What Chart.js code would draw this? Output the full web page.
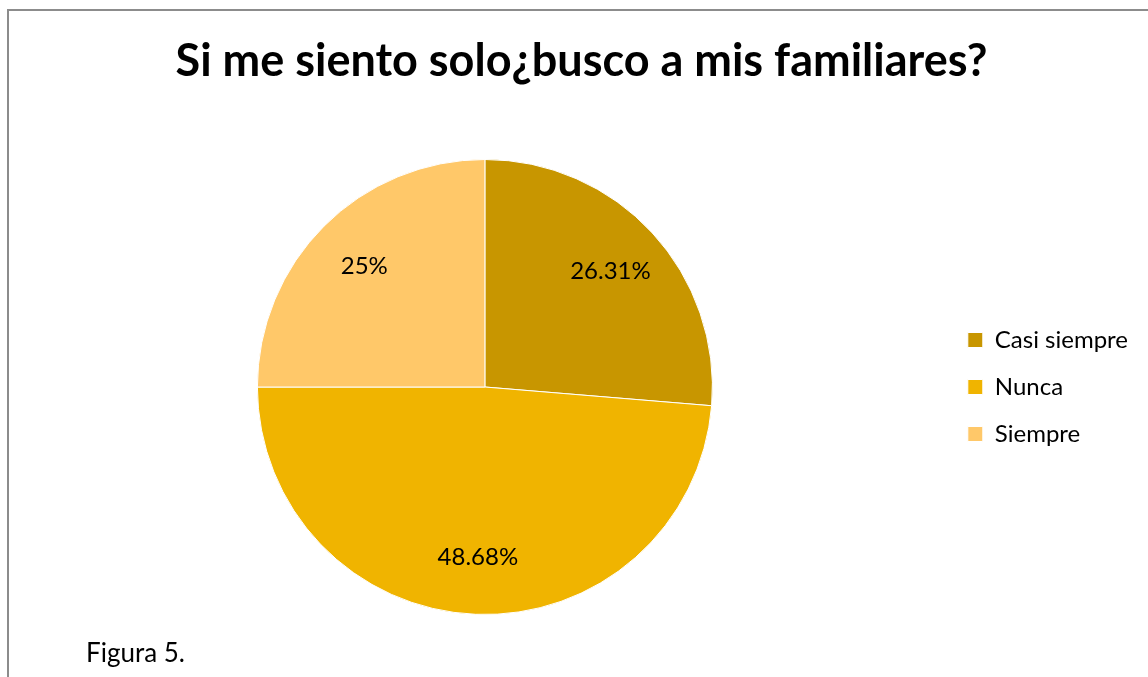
<!DOCTYPE html>
<html>
<head>
<meta charset="utf-8">
<script src="https://cdn.jsdelivr.net/npm/chart.js@4.4.1/dist/chart.umd.min.js"></script>
<style>
  html, body { margin: 0; padding: 0; background: #fff; }
  #wrap { position: relative; width: 1148px; height: 677px; overflow: hidden; }
  #frame { position: absolute; left: 7px; top: 9px; right: -10px; bottom: -10px;
           border-left: 2px solid #8c8c8c; border-top: 2px solid #8c8c8c; }
  #grafico { position: absolute; left: 0; top: 0; }
  #pie { position: absolute; left: 86px; top: 637px; font: 26px/1.2 Lato, sans-serif; color: #000; }
</style>
</head>
<body>
<div id="wrap">
  <div id="frame"></div>
  <canvas id="grafico" width="1148" height="677"></canvas>
  <div id="pie">Figura 5.</div>
</div>
<script>
const categorias = ['Casi siempre', 'Nunca', 'Siempre'];
const porcentajes = [26.31, 48.68, 25];
const etiquetas = ['26.31%', '48.68%', '25%'];
const colores = ['#C89600', '#F0B400', '#FFC869'];

// etiquetas de porcentaje dentro de cada porcion
const etiquetasPie = {
  id: 'etiquetasPie',
  afterDatasetsDraw(chart) {
    const ctx = chart.ctx;
    const arcos = chart.getDatasetMeta(0).data;
    ctx.save();
    ctx.font = '24px Lato, sans-serif';
    ctx.fillStyle = '#000';
    ctx.textAlign = 'center';
    ctx.textBaseline = 'middle';
    arcos.forEach((arco, i) => {
      const p = arco.getProps(['x', 'y', 'startAngle', 'endAngle', 'outerRadius'], true);
      const medio = (p.startAngle + p.endAngle) / 2;
      const r = p.outerRadius * 0.75;
      ctx.fillText(etiquetas[i], p.x + Math.cos(medio) * r, p.y + Math.sin(medio) * r);
    });
    ctx.restore();
  }
};

const ctxPie = document.getElementById('grafico').getContext('2d');

const graficoPie = new Chart(ctxPie, {
    type: 'pie',
    data: {
      labels: categorias,
      datasets: [{
        data: porcentajes,
        backgroundColor: colores,
        borderColor: '#ffffff',
        borderWidth: 1
      }]
    },
    options: {
      responsive: false,
      animation: false,
      layout: {
        padding: { left: 25, right: 10, top: 34, bottom: 62 }
      },
      plugins: {
        title: {
          display: true,
          text: 'Si me siento solo¿busco a mis familiares?',
          color: '#000',
          font: { family: 'Lato', size: 45, weight: 'bold' },
          padding: { top: 0, bottom: 71 }
        },
        legend: {
          position: 'right',
          fullSize: false,
          labels: {
            boxWidth: 15,
            boxHeight: 15,
            padding: 23,
            color: '#000',
            font: { family: 'Lato', size: 24 }
          }
        },
        tooltip: { enabled: false }
      }
    },
    plugins: [etiquetasPie]
});
</script>
</body>
</html>
